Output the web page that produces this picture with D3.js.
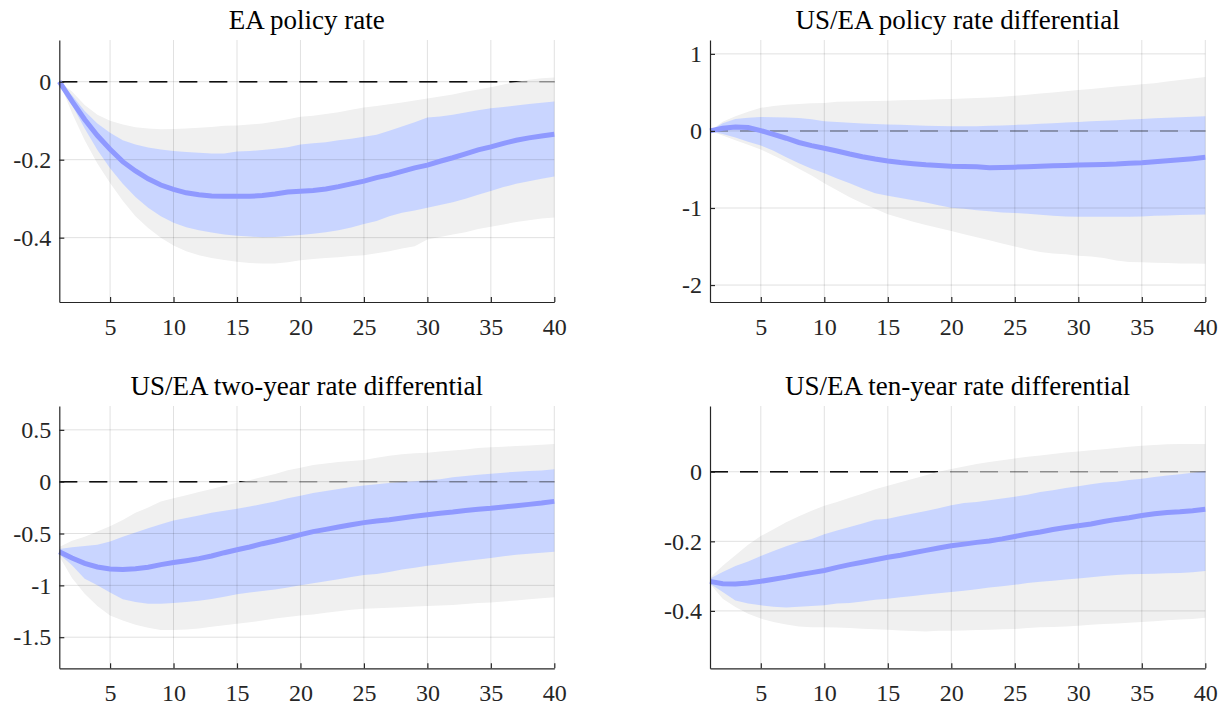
<!DOCTYPE html>
<html>
<head>
<meta charset="utf-8">
<script src="https://cdnjs.cloudflare.com/ajax/libs/d3/7.8.5/d3.min.js"></script>
<style>
	body { margin: 0; background: #fff; }
	#chartDiv { width: 1227px; height: 706px; }
	svg text { font-family: "Liberation Serif", "Times New Roman", serif !important; }
</style>
</head>
<body>
<div id="chartDiv"></div>
<script>
// horizons on the x axis
var horizon = [1, 2, 3, 4, 5, 6, 7, 8, 9, 10, 11, 12, 13, 14, 15, 16, 17, 18, 19, 20,
	21, 22, 23, 24, 25, 26, 27, 28, 29, 30, 31, 32, 33, 34, 35, 36, 37, 38, 39, 40];
var xTicks = [5, 10, 15, 20, 25, 30, 35, 40];

var titles = ["EA policy rate", "US/EA policy rate differential",
	"US/EA two-year rate differential", "US/EA ten-year rate differential"];

// EA policy rate
var p1Median = [0, -0.05, -0.097, -0.138, -0.173, -0.205, -0.229, -0.249, -0.265, -0.276,
	-0.285, -0.29, -0.293, -0.294, -0.294, -0.294, -0.292, -0.288, -0.283, -0.281,
	-0.279, -0.275, -0.269, -0.262, -0.255, -0.246, -0.239, -0.23, -0.221, -0.214,
	-0.204, -0.195, -0.185, -0.175, -0.167, -0.158, -0.15, -0.144, -0.139, -0.135];
var p1Hi68 = [0, -0.035, -0.075, -0.107, -0.131, -0.15, -0.161, -0.169, -0.174, -0.178,
	-0.18, -0.182, -0.184, -0.184, -0.179, -0.178, -0.175, -0.172, -0.168, -0.161,
	-0.158, -0.155, -0.15, -0.146, -0.141, -0.136, -0.126, -0.115, -0.104, -0.092,
	-0.089, -0.085, -0.079, -0.073, -0.068, -0.065, -0.061, -0.057, -0.054, -0.051];
var p1Lo68 = [0, -0.06, -0.12, -0.175, -0.222, -0.262, -0.296, -0.323, -0.345, -0.362,
	-0.373, -0.381, -0.387, -0.392, -0.395, -0.397, -0.399, -0.398, -0.396, -0.393,
	-0.39, -0.386, -0.381, -0.374, -0.365, -0.357, -0.345, -0.336, -0.33, -0.323,
	-0.316, -0.309, -0.3, -0.29, -0.28, -0.27, -0.262, -0.255, -0.249, -0.243];
var p1Hi90 = [0, -0.025, -0.06, -0.085, -0.1, -0.11, -0.117, -0.12, -0.122, -0.121,
	-0.12, -0.118, -0.116, -0.113, -0.112, -0.11, -0.107, -0.102, -0.096, -0.09,
	-0.087, -0.083, -0.078, -0.072, -0.066, -0.062, -0.058, -0.053, -0.048, -0.043,
	-0.038, -0.033, -0.026, -0.02, -0.014, -0.007, -0.001, 0.005, 0.009, 0.011];
var p1Lo90 = [0, -0.08, -0.15, -0.21, -0.26, -0.305, -0.345, -0.375, -0.4, -0.42,
	-0.435, -0.445, -0.452, -0.457, -0.462, -0.465, -0.466, -0.466, -0.463, -0.458,
	-0.455, -0.452, -0.45, -0.447, -0.445, -0.44, -0.435, -0.428, -0.422, -0.405,
	-0.398, -0.392, -0.386, -0.378, -0.372, -0.366, -0.36, -0.355, -0.351, -0.348];

// US/EA policy rate differential
var p2Median = [0, 0.035, 0.05, 0.045, 0.005, -0.045, -0.095, -0.15, -0.19, -0.225,
	-0.26, -0.3, -0.335, -0.365, -0.39, -0.41, -0.425, -0.44, -0.45, -0.457,
	-0.46, -0.465, -0.478, -0.474, -0.47, -0.465, -0.457, -0.452, -0.448, -0.443,
	-0.44, -0.435, -0.43, -0.42, -0.413, -0.4, -0.387, -0.374, -0.36, -0.343];
var p2Hi68 = [0, 0.1, 0.155, 0.17, 0.18, 0.178, 0.175, 0.168, 0.15, 0.125,
	0.115, 0.105, 0.097, 0.09, 0.085, 0.08, 0.075, 0.068, 0.063, 0.06,
	0.06, 0.062, 0.066, 0.072, 0.078, 0.085, 0.092, 0.1, 0.108, 0.116,
	0.124, 0.132, 0.14, 0.148, 0.156, 0.164, 0.172, 0.178, 0.184, 0.19];
var p2Lo68 = [0, -0.04, -0.085, -0.14, -0.19, -0.257, -0.343, -0.42, -0.49, -0.55,
	-0.617, -0.678, -0.748, -0.81, -0.84, -0.87, -0.9, -0.93, -0.965, -0.996,
	-1.01, -1.03, -1.043, -1.057, -1.065, -1.074, -1.087, -1.1, -1.109, -1.113,
	-1.113, -1.113, -1.113, -1.113, -1.109, -1.1, -1.096, -1.091, -1.087, -1.083];
var p2Hi90 = [0, 0.12, 0.19, 0.25, 0.3, 0.325, 0.34, 0.35, 0.358, 0.364,
	0.378, 0.382, 0.386, 0.39, 0.393, 0.397, 0.402, 0.406, 0.41, 0.415,
	0.42, 0.428, 0.435, 0.445, 0.455, 0.47, 0.485, 0.5, 0.515, 0.53,
	0.545, 0.56, 0.575, 0.59, 0.605, 0.62, 0.64, 0.66, 0.68, 0.7];
var p2Lo90 = [0, -0.06, -0.12, -0.18, -0.24, -0.32, -0.4, -0.49, -0.58, -0.68,
	-0.77, -0.86, -0.94, -1.01, -1.08, -1.13, -1.18, -1.22, -1.26, -1.3,
	-1.34, -1.38, -1.42, -1.46, -1.5, -1.54, -1.57, -1.59, -1.6, -1.62,
	-1.63, -1.65, -1.68, -1.7, -1.705, -1.71, -1.715, -1.72, -1.72, -1.725];

// US/EA two-year rate differential
var p3Median = [-0.675, -0.736, -0.788, -0.823, -0.842, -0.846, -0.839, -0.826, -0.8, -0.78,
	-0.762, -0.742, -0.717, -0.685, -0.656, -0.63, -0.598, -0.572, -0.543, -0.511,
	-0.482, -0.46, -0.437, -0.415, -0.395, -0.379, -0.367, -0.35, -0.334, -0.318,
	-0.305, -0.293, -0.277, -0.267, -0.257, -0.244, -0.232, -0.219, -0.206, -0.19];
var p3Hi68 = [-0.65, -0.633, -0.62, -0.608, -0.576, -0.53, -0.49, -0.45, -0.41, -0.375,
	-0.35, -0.325, -0.3, -0.28, -0.262, -0.24, -0.215, -0.19, -0.16, -0.135,
	-0.11, -0.09, -0.07, -0.052, -0.036, -0.024, -0.013, -0.004, 0.004, 0.013,
	0.023, 0.042, 0.055, 0.068, 0.077, 0.087, 0.096, 0.103, 0.109, 0.119];
var p3Lo68 = [-0.7, -0.807, -0.936, -1.0, -1.07, -1.135, -1.16, -1.177, -1.177, -1.17,
	-1.16, -1.148, -1.132, -1.11, -1.085, -1.07, -1.055, -1.04, -1.02, -1.0,
	-0.98, -0.96, -0.94, -0.92, -0.9, -0.89, -0.87, -0.848, -0.83, -0.81,
	-0.797, -0.78, -0.765, -0.75, -0.735, -0.72, -0.705, -0.695, -0.685, -0.675];
var p3Hi90 = [-0.63, -0.57, -0.53, -0.48, -0.43, -0.37, -0.3, -0.25, -0.19, -0.16,
	-0.13, -0.1, -0.07, -0.04, -0.01, 0.015, 0.045, 0.075, 0.11, 0.135,
	0.16, 0.175, 0.19, 0.2, 0.21, 0.23, 0.25, 0.265, 0.275, 0.28,
	0.29, 0.3, 0.31, 0.325, 0.332, 0.338, 0.345, 0.35, 0.357, 0.364];
var p3Lo90 = [-0.72, -0.93, -1.08, -1.2, -1.29, -1.34, -1.38, -1.41, -1.43, -1.43,
	-1.425, -1.415, -1.4, -1.385, -1.37, -1.355, -1.34, -1.32, -1.305, -1.29,
	-1.28, -1.265, -1.25, -1.235, -1.225, -1.22, -1.215, -1.21, -1.205, -1.2,
	-1.195, -1.19, -1.18, -1.17, -1.165, -1.155, -1.145, -1.135, -1.125, -1.115];

// US/EA ten-year rate differential
var p4Median = [-0.315, -0.322, -0.323, -0.32, -0.315, -0.309, -0.303, -0.296, -0.29, -0.284,
	-0.275, -0.267, -0.26, -0.253, -0.246, -0.24, -0.233, -0.226, -0.219, -0.213,
	-0.208, -0.203, -0.199, -0.193, -0.186, -0.179, -0.173, -0.166, -0.16, -0.155,
	-0.15, -0.143, -0.137, -0.132, -0.126, -0.121, -0.117, -0.115, -0.112, -0.108];
var p4Hi68 = [-0.307, -0.288, -0.271, -0.258, -0.242, -0.228, -0.214, -0.202, -0.193, -0.18,
	-0.169, -0.159, -0.149, -0.138, -0.135, -0.127, -0.12, -0.113, -0.105, -0.096,
	-0.09, -0.087, -0.082, -0.077, -0.072, -0.066, -0.058, -0.053, -0.047, -0.042,
	-0.036, -0.031, -0.029, -0.024, -0.02, -0.015, -0.011, -0.007, -0.003, 0.002];
var p4Lo68 = [-0.322, -0.346, -0.37, -0.379, -0.384, -0.388, -0.39, -0.388, -0.386, -0.384,
	-0.379, -0.377, -0.373, -0.368, -0.365, -0.361, -0.357, -0.353, -0.349, -0.346,
	-0.342, -0.338, -0.333, -0.329, -0.325, -0.32, -0.316, -0.313, -0.31, -0.307,
	-0.303, -0.3, -0.297, -0.295, -0.294, -0.293, -0.292, -0.291, -0.289, -0.285];
var p4Hi90 = [-0.305, -0.27, -0.24, -0.21, -0.185, -0.165, -0.145, -0.128, -0.112, -0.098,
	-0.087, -0.075, -0.063, -0.05, -0.04, -0.03, -0.02, -0.01, 0, 0.008,
	0.015, 0.022, 0.028, 0.033, 0.038, 0.043, 0.047, 0.051, 0.055, 0.058,
	0.062, 0.065, 0.068, 0.072, 0.075, 0.077, 0.079, 0.08, 0.08, 0.08];
var p4Lo90 = [-0.322, -0.365, -0.389, -0.408, -0.422, -0.432, -0.439, -0.445, -0.447, -0.447,
	-0.448, -0.449, -0.451, -0.453, -0.454, -0.456, -0.458, -0.459, -0.457, -0.457,
	-0.456, -0.455, -0.454, -0.453, -0.452, -0.449, -0.447, -0.446, -0.445, -0.443,
	-0.44, -0.438, -0.436, -0.434, -0.432, -0.43, -0.427, -0.425, -0.423, -0.42];

// y tick values per panel
var p1YTicks = [-0.4, -0.2, 0];
var p2YTicks = [-2, -1, 0, 1];
var p3YTicks = [-1.5, -1, -0.5, 0, 0.5];
var p4YTicks = [-0.4, -0.2, 0];

var panels = [
	{title: titles[0], med: p1Median, hi68: p1Hi68, lo68: p1Lo68, hi90: p1Hi90, lo90: p1Lo90,
		yTicks: p1YTicks, yMin: -0.565, yMax: 0.107, left: 59.3, right: 554.3, top: 40, bottom: 302},
	{title: titles[1], med: p2Median, hi68: p2Hi68, lo68: p2Lo68, hi90: p2Hi90, lo90: p2Lo90,
		yTicks: p2YTicks, yMin: -2.22, yMax: 1.18, left: 710, right: 1205.3, top: 40, bottom: 302},
	{title: titles[2], med: p3Median, hi68: p3Hi68, lo68: p3Lo68, hi90: p3Hi90, lo90: p3Lo90,
		yTicks: p3YTicks, yMin: -1.80, yMax: 0.73, left: 59.3, right: 554.3, top: 406, bottom: 668.3},
	{title: titles[3], med: p4Median, hi68: p4Hi68, lo68: p4Lo68, hi90: p4Hi90, lo90: p4Lo90,
		yTicks: p4YTicks, yMin: -0.565, yMax: 0.189, left: 710, right: 1205.3, top: 406, bottom: 668.3}
];

var serif = "Liberation Serif, Times New Roman, serif";

var svg = d3.select("#chartDiv").append("svg")
	.attr("width", 1227)
	.attr("height", 706)
	.attr("font-family", serif);

panels.forEach(function(p) { drawPanel(p); });

function drawPanel(p) {
	var x = d3.scaleLinear().domain([1, 40]).range([p.left, p.right]);
	var y = d3.scaleLinear().domain([p.yMin, p.yMax]).range([p.bottom, p.top]);
	var g = svg.append("g");

	//zero line, first drawn under the bands
	g.append("line")
		.attr("x1", x(1)).attr("x2", x(40))
		.attr("y1", y(0)).attr("y2", y(0))
		.attr("stroke", "#111")
		.attr("stroke-width", 1.5)
		.attr("stroke-dasharray", "18,12");

	//90% and 68% bands
	var band = function(lo, hi) {
		return d3.area()
			.x(function(d) { return x(d); })
			.y0(function(d, i) { return y(lo[i]); })
			.y1(function(d, i) { return y(hi[i]); });
	};
	g.append("path")
		.datum(horizon)
		.attr("d", band(p.lo90, p.hi90))
		.attr("fill", "#f0f0f0");
	g.append("path")
		.datum(horizon)
		.attr("d", band(p.lo68, p.hi68))
		.attr("fill", "#c9d5ff");

	//grid shows through the bands
	g.selectAll(".vgrid")
		.data(xTicks)
		.enter().append("line")
		.attr("x1", function(d) { return x(d); })
		.attr("x2", function(d) { return x(d); })
		.attr("y1", p.top).attr("y2", p.bottom)
		.attr("stroke", "#000")
		.attr("stroke-opacity", 0.12);
	g.selectAll(".hgrid")
		.data(p.yTicks)
		.enter().append("line")
		.attr("x1", p.left).attr("x2", p.right)
		.attr("y1", function(d) { return y(d); })
		.attr("y2", function(d) { return y(d); })
		.attr("stroke", "#000")
		.attr("stroke-opacity", 0.12);

	//faint copy of the zero line over the bands
	g.append("line")
		.attr("x1", x(1)).attr("x2", x(40))
		.attr("y1", y(0)).attr("y2", y(0))
		.attr("stroke", "#111")
		.attr("stroke-opacity", 0.38)
		.attr("stroke-width", 1.5)
		.attr("stroke-dasharray", "18,12");

	//median response
	g.append("path")
		.datum(horizon)
		.attr("d", d3.line()
			.x(function(d) { return x(d); })
			.y(function(d, i) { return y(p.med[i]); }))
		.attr("fill", "none")
		.attr("stroke", "#8f99ff")
		.attr("stroke-width", 5);

	//axes, ticks point inward
	var xAxis = g.append("g")
		.attr("transform", "translate(0," + p.bottom + ")")
		.call(d3.axisBottom(x).tickValues(xTicks)
			.tickSizeInner(-5).tickSizeOuter(0).tickPadding(16));
	var yAxis = g.append("g")
		.attr("transform", "translate(" + p.left + ",0)")
		.call(d3.axisLeft(y).tickValues(p.yTicks)
			.tickFormat(function(d) { return String(d); })
			.tickSizeInner(-5).tickSizeOuter(0).tickPadding(8));
	[xAxis, yAxis].forEach(function(a) {
		a.attr("font-family", serif).attr("font-size", 24);
		a.selectAll("path, line").attr("stroke", "#262626").attr("stroke-width", 1.2);
		a.selectAll("text")
			.attr("fill", "#262626")
			.attr("font-family", serif)
			.attr("font-size", 24);
	});

	g.append("text")
		.attr("x", (p.left + p.right) / 2)
		.attr("y", p.top - 11)
		.attr("text-anchor", "middle")
		.attr("font-family", serif)
		.attr("font-size", 27)
		.attr("fill", "#000")
		.text(p.title);
}
</script>
</body>
</html>
